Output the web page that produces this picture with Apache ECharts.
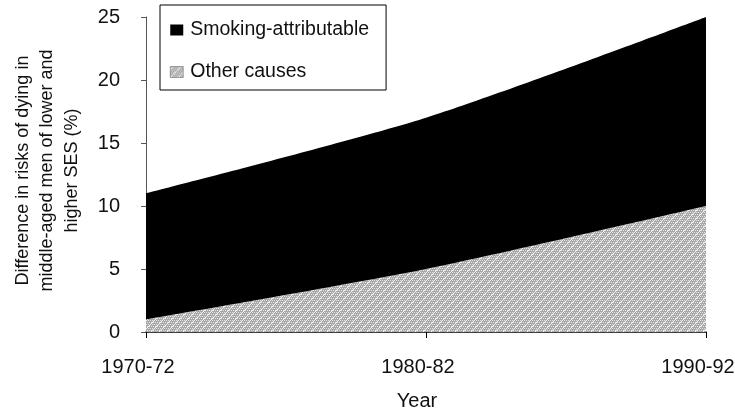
<!DOCTYPE html>
<html>
<head>
<meta charset="utf-8">
<script src="https://cdn.jsdelivr.net/npm/echarts@6/dist/echarts.min.js"></script>
<style>
  html, body { margin: 0; padding: 0; background: #fff; }
  #chart { width: 735px; height: 417px; }
</style>
</head>
<body>
<div id="chart"></div>
<script>
const years = ['1970-72', '1980-82', '1990-92']
const otherCauses = [1, 5, 10]
const smokingAttributable = [10, 12, 15]
const yTicks = [0, 5, 10, 15, 20, 25]

// grey hatch, like the printed screen tone
function makeHatch() {
  const c = document.createElement('canvas')
  c.width = 8
  c.height = 8
  const ctx = c.getContext('2d')
  ctx.fillStyle = '#a8a8a8'
  ctx.fillRect(0, 0, 8, 8)
  ctx.fillStyle = '#e4e4e4'
  for (let y = 0; y < 8; y += 2) {
    for (let x = (y / 2) % 2; x < 8; x += 2) {
      ctx.fillRect(x, y, 1, 1)
    }
  }
  ctx.fillStyle = '#f4f4f4'
  for (let i = 0; i < 8; i++) {
    ctx.fillRect((i + 3) % 8, 7 - i, 1, 1)
  }
  return c
}
const hatch = { image: makeHatch(), repeat: 'repeat' }

const font = 'Liberation Sans'
const chart = echarts.init(document.getElementById('chart'))
chart.setOption({
  animation: false,
  textStyle: { fontFamily: font },
  grid: { left: 146, right: 29, top: 17, bottom: 85, outerBoundsMode: 'none' },
  legend: {
    orient: 'vertical',
    left: 160,
    top: 5,
    padding: [15, 17, 8, 10],
    itemGap: 22,
    itemWidth: 13,
    itemHeight: 11,
    borderColor: '#000',
    borderWidth: 1,
    textStyle: { fontFamily: font, fontSize: 19.5, color: '#111', padding: [0, 0, 0, 2] },
    data: [
      { name: 'Smoking-attributable', icon: 'rect', itemStyle: { color: '#000' } },
      { name: 'Other causes', icon: 'rect', itemStyle: { color: hatch, borderColor: '#555', borderWidth: 0.5 } }
    ]
  },
  xAxis: {
    type: 'category',
    data: years,
    boundaryGap: false,
    name: 'Year',
    nameLocation: 'middle',
    nameGap: 59,
    nameTextStyle: { fontFamily: font, fontSize: 20, color: '#111', padding: [0, 18, 0, 0] },
    axisLine: { lineStyle: { color: '#000', width: 1.5 } },
    axisTick: { length: 6, lineStyle: { color: '#000' } },
    axisLabel: { fontFamily: font, fontSize: 20, color: '#111', margin: 25, padding: [0, 16, 0, 0] }
  },
  yAxis: {
    type: 'value',
    min: yTicks[0],
    max: yTicks[yTicks.length - 1],
    interval: 5,
    name: 'Difference in risks of dying in\nmiddle-aged men of lower and\nhigher SES (%)',
    nameLocation: 'middle',
    nameGap: 62,
    nameTextStyle: { fontFamily: font, fontSize: 18, color: '#111', lineHeight: 24.5, padding: [0, 0, 0, 8] },
    axisLine: { show: true, lineStyle: { color: '#555', width: 1 } },
    axisTick: { show: true, length: 5, lineStyle: { color: '#555' } },
    axisLabel: { fontFamily: font, fontSize: 20, color: '#111', margin: 26 },
    splitLine: { show: false }
  },
  series: [
    {
      name: 'Other causes',
      type: 'line',
      stack: 'total',
      data: otherCauses,
      smooth: 0.25,
      showSymbol: false,
      lineStyle: { width: 0 },
      itemStyle: { color: hatch },
      areaStyle: { color: hatch, opacity: 1 }
    },
    {
      name: 'Smoking-attributable',
      type: 'line',
      stack: 'total',
      data: smokingAttributable,
      smooth: 0.25,
      showSymbol: false,
      lineStyle: { width: 0 },
      itemStyle: { color: '#000' },
      areaStyle: { color: '#000', opacity: 1 }
    }
  ]
})
</script>
</body>
</html>
